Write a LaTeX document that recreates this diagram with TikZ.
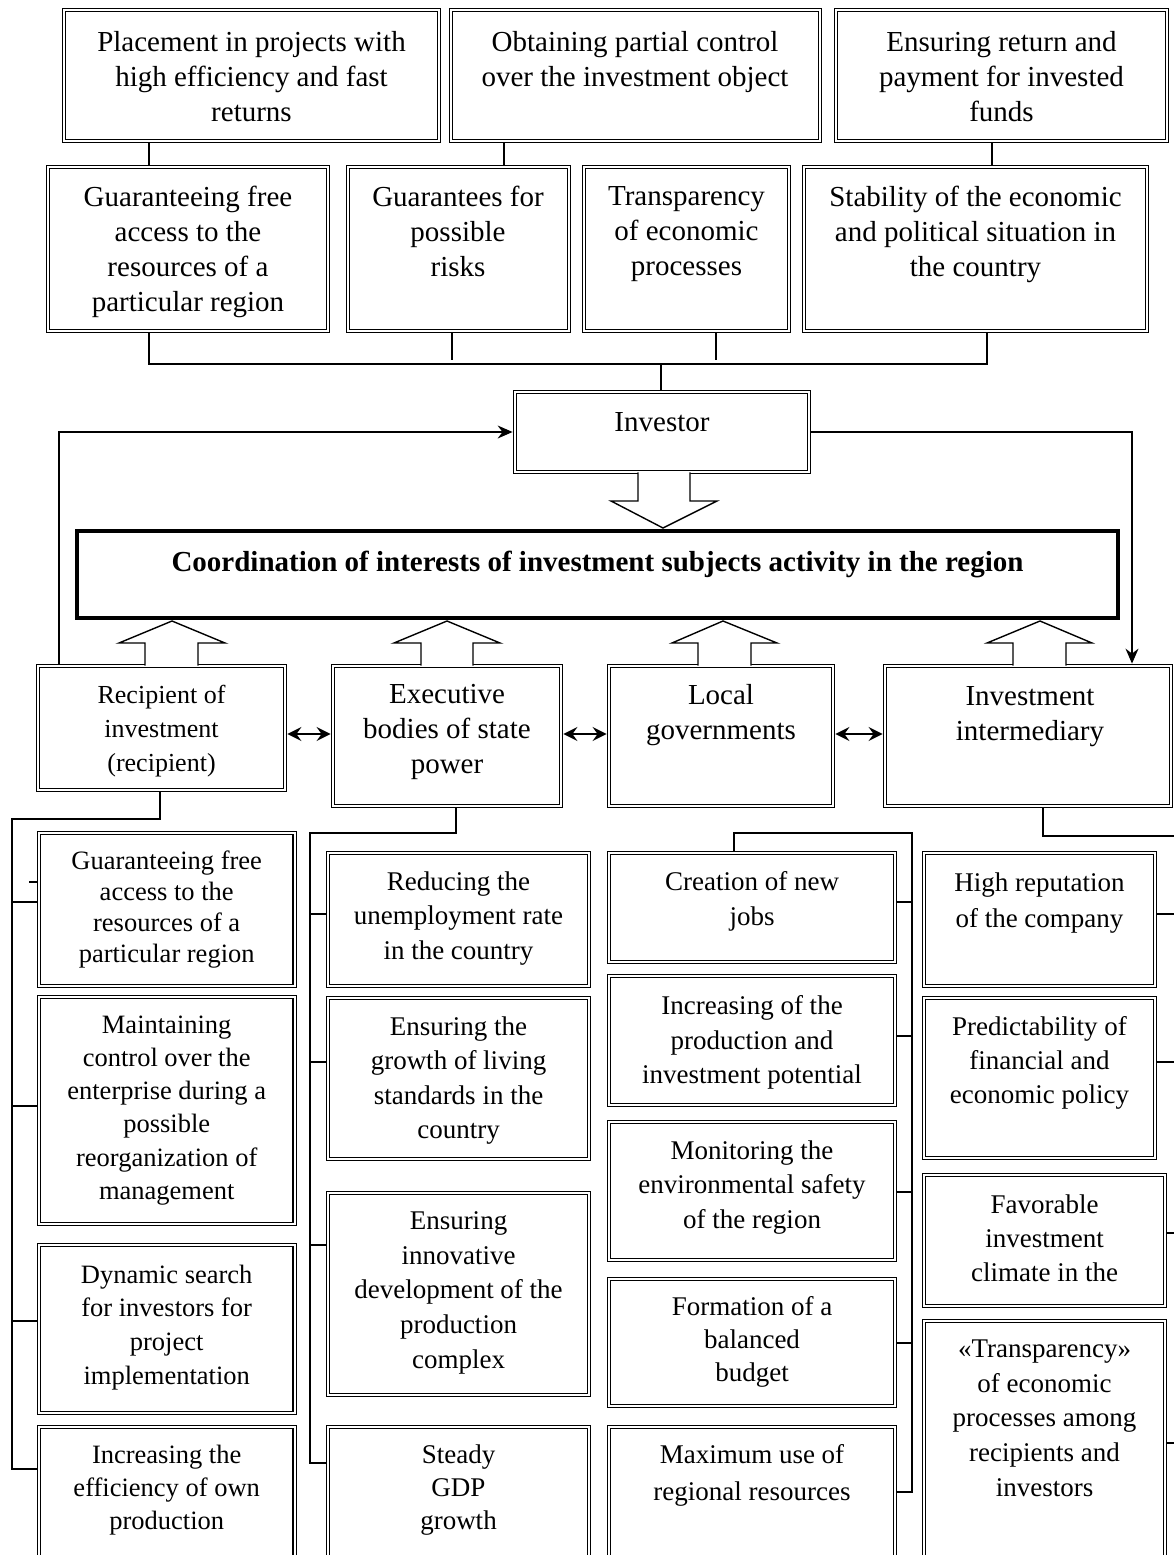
\documentclass[tikz,border=0pt]{standalone}
\usepackage{fontspec}
\setmainfont{Liberation Serif}
\usetikzlibrary{arrows.meta,backgrounds}
\tikzset{
  dbox/.style={draw, double, double distance=2pt, line width=1.2pt, inner sep=0pt, rectangle},
  tt/.style={align=center, inner sep=0pt, font=\fontsize{29}{35}\selectfont},
  conn/.style={line width=1.4pt},
  arr/.style={line width=1.5pt, -{Stealth[length=15pt,width=13pt,inset=5pt]}, shorten >=2pt},
  darr/.style={line width=2.2pt, {Stealth[length=14pt,width=14pt,inset=5pt]}-{Stealth[length=14pt,width=14pt,inset=5pt]}, shorten <=2pt, shorten >=2pt},
  blk/.style={line width=1.4pt, fill=white, line join=miter},
}
\newcommand\bx[5]{\node[dbox, minimum width={#4-#2-4.4}, minimum height={#5-#3-4.4}] (#1) at ({(#2+#4)/2},{(#3+#5)/2}) {};}
\newcommand\tx[5]{\node[#2, anchor=north] (#1) at (#3,#4) {#5};}
\begin{document}
\begin{tikzpicture}[x=1pt,y=-1pt]
\useasboundingbox (0,0) rectangle (1174,1555);
% ---------- boxes ----------
\bx{b1}{62}{8}{441}{143}
\bx{b2}{448.5}{8}{822}{143}
\bx{b3}{834}{8}{1169}{143}
\bx{c1}{46}{165}{330}{333}
\bx{c2}{345.5}{165}{571}{333}
\bx{c3}{582}{165}{791}{333}
\bx{c4}{802}{165}{1149}{333}
\bx{inv}{513}{390}{811}{474}
\node[draw, line width=4pt, inner sep=0pt, minimum width=1041, minimum height=87] (coo) at (597.5,574.5) {};
\bx{r1}{36}{664}{287}{792}
\bx{r2}{331}{664}{563}{808}
\bx{r3}{607}{664}{835}{808}
\bx{r4}{883}{664}{1173}{808}
\bx{l1}{36.7}{831}{296.7}{988}
\bx{l2}{36.7}{995}{296.7}{1226}
\bx{l3}{36.7}{1243}{296.7}{1415}
\bx{l4}{36.7}{1425}{296.7}{1580}
\bx{e1}{326}{851}{591}{988}
\bx{e2}{326}{996}{591}{1161}
\bx{e3}{326}{1191}{591}{1397}
\bx{e4}{326}{1425}{591}{1580}
\bx{m1}{607}{851}{897}{964}
\bx{m2}{607}{974}{897}{1107}
\bx{m3}{607}{1120}{897}{1262}
\bx{m4}{607}{1277}{897}{1408}
\bx{m5}{607}{1425}{897}{1580}
\bx{n1}{922}{851}{1157}{988}
\bx{n2}{922}{996}{1157}{1160}
\bx{n3}{922}{1173}{1167}{1308}
\bx{n4}{922}{1319}{1167}{1580}
% ---------- texts ----------
\tx{b1t}{tt}{251.5}{31}{Placement in projects with\\high efficiency and fast\\returns}
\tx{b2t}{tt}{635}{31}{Obtaining partial control\\over the investment object}
\tx{b3t}{tt}{1001.5}{31}{Ensuring return and\\payment for invested\\funds}
\tx{c1t}{tt}{188}{186}{Guaranteeing free\\access to the\\resources of a\\particular region}
\tx{c2t}{tt}{458}{186}{Guarantees for\\possible\\risks}
\tx{c3t}{tt}{686.5}{186}{Transparency\\of economic\\processes}
\tx{c4t}{tt}{975.5}{186}{Stability of the economic\\and political situation in\\the country}
\tx{invt}{tt}{662}{412}{Investor}
\tx{coot}{tt,font=\fontsize{29}{35}\selectfont\bfseries}{597.5}{551}{Coordination of interests of investment subjects activity in the region}
\tx{r1t}{tt,font=\fontsize{26}{34}\selectfont}{161.5}{685}{Recipient of\\investment\\(recipient)}
\tx{r2t}{tt}{447}{684}{Executive\\bodies of state\\power}
\tx{r3t}{tt}{721}{684}{Local\\governments}
\tx{r4t}{tt}{1030}{686}{Investment\\intermediary}
\tx{l1t}{tt,font=\fontsize{26.5}{31}\selectfont}{166.7}{850.5}{Guaranteeing free\\access to the\\resources of a\\particular region}
\tx{l2t}{tt,font=\fontsize{26.5}{33.2}\selectfont}{166.7}{1015.5}{Maintaining\\control over the\\enterprise during a\\possible\\reorganization of\\management}
\tx{l3t}{tt,font=\fontsize{26.5}{33.7}\selectfont}{166.7}{1264.5}{Dynamic search\\for investors for\\project\\implementation}
\tx{l4t}{tt,font=\fontsize{26.5}{33}\selectfont}{166.7}{1444.5}{Increasing the\\efficiency of own\\production}
\tx{e1t}{tt,font=\fontsize{27}{34.5}\selectfont}{458.5}{871.5}{Reducing the\\unemployment rate\\in the country}
\tx{e2t}{tt,font=\fontsize{27}{34.5}\selectfont}{458.5}{1016.5}{Ensuring the\\growth of living\\standards in the\\country}
\tx{e3t}{tt,font=\fontsize{27}{34.7}\selectfont}{458.5}{1211.5}{Ensuring\\innovative\\development of the\\production\\complex}
\tx{e4t}{tt,font=\fontsize{27}{33}\selectfont}{458.5}{1444.5}{Steady\\GDP\\growth}
\tx{m1t}{tt,font=\fontsize{27}{34.5}\selectfont}{752}{871.5}{Creation of new\\jobs}
\tx{m2t}{tt,font=\fontsize{27}{34.3}\selectfont}{752}{995.5}{Increasing of the\\production and\\investment potential}
\tx{m3t}{tt,font=\fontsize{27}{34.5}\selectfont}{752}{1140.5}{Monitoring the\\environmental safety\\of the region}
\tx{m4t}{tt,font=\fontsize{27}{33}\selectfont}{752}{1296.5}{Formation of a\\balanced\\budget}
\tx{m5t}{tt,font=\fontsize{27}{37}\selectfont}{752}{1444.5}{Maximum use of\\regional resources}
\tx{n1t}{tt,font=\fontsize{27}{36}\selectfont}{1039.5}{872.5}{High reputation\\of the company}
\tx{n2t}{tt,font=\fontsize{27}{34}\selectfont}{1039.5}{1016.5}{Predictability of\\financial and\\economic policy}
\tx{n3t}{tt,font=\fontsize{27}{34}\selectfont}{1044.5}{1194.5}{Favorable\\investment\\climate in the}
\tx{n4t}{tt,font=\fontsize{27}{34.7}\selectfont}{1044.5}{1339.5}{«Transparency»\\of economic\\processes among\\recipients and\\investors}
% ---------- block arrows ----------
\draw[blk] (inv.south -| 638,0) -- (638,501) -- (611,501) -- (663,528) -- (717,501) -- (690,501) -- (inv.south -| 690,0);
\draw[blk] (r1.north -| 145,0) -- (145,643) -- (119,643) -- (172,621) -- (225,643) -- (198,643) -- (r1.north -| 198,0);
\draw[blk] (r2.north -| 421,0) -- (421,643) -- (394,643) -- (447,621) -- (500,643) -- (473,643) -- (r2.north -| 473,0);
\draw[blk] (r3.north -| 698,0) -- (698,643) -- (672,643) -- (723,621) -- (777,643) -- (751,643) -- (r3.north -| 751,0);
\draw[blk] (r4.north -| 1013,0) -- (1013,643) -- (987,643) -- (1040,621) -- (1092,643) -- (1066,643) -- (r4.north -| 1066,0);
% ---------- connectors ----------
\begin{pgfonlayer}{background}
\fill[white] (0,0) rectangle (1174,1555);
\coordinate (hubL) at (149,364);
\coordinate (hubR) at (987,364);
\coordinate (hubI) at (661,364);
\draw[conn] (b1.south -| 149,0) -- (c1.north -| 149,0);
\draw[conn] (b2.south -| 504,0) -- (c2.north -| 504,0);
\draw[conn] (b3.south -| 992,0) -- (c4.north -| 992,0);
\draw[conn] (c1.south -| hubL) -- (hubL) -- (hubR) -- (c4.south -| hubR);
\draw[conn] (c2.south -| 452,0) -- (452,360);
\draw[conn] (c3.south -| 716,0) -- (716,360);
\draw[conn] (hubI) -- (inv.north -| hubI);
\draw[arr] (r1.north -| 59,0) |- (inv.west);
\draw[arr] (inv.east) -| (r4.north -| 1132,0);
\draw[darr] (r1.east |- 0,734) -- (r2.west |- 0,734);
\draw[darr] (r2.east |- 0,734) -- (r3.west |- 0,734);
\draw[darr] (r3.east |- 0,734) -- (r4.west |- 0,734);
% column 1
\coordinate (busL) at (12,819);
\draw[conn] (r1.south -| 160,0) |- (busL) -- (12,1469) -- (l4.west |- 0,1469);
\draw[conn] (12,902) -- (l1.west |- 0,902);
\draw[conn] (29,882) -- (l1.west |- 0,882);
\draw[conn] (12,1106) -- (l2.west |- 0,1106);
\draw[conn] (12,1321) -- (l3.west |- 0,1321);
% column 2
\coordinate (busE) at (310,833);
\draw[conn] (r2.south -| 456,0) |- (busE) -- (310,1463) -- (e4.west |- 0,1463);
\draw[conn] (310,914) -- (e1.west |- 0,914);
\draw[conn] (310,1062) -- (e2.west |- 0,1062);
\draw[conn] (310,1245) -- (e3.west |- 0,1245);
% column 3
\coordinate (busM) at (912,833);
\draw[conn] (m1.north -| 734,0) |- (busM) -- (912,1492) -- (m5.east |- 0,1492);
\draw[conn] (m1.east |- 0,902) -- (912,902);
\draw[conn] (m2.east |- 0,1036) -- (912,1036);
\draw[conn] (m3.east |- 0,1192) -- (912,1192);
\draw[conn] (m4.east |- 0,1343) -- (912,1343);
% column 4
\coordinate (busN) at (1176,836);
\draw[conn] (r4.south -| 1043,0) |- (busN);
\draw[conn] (n1.east |- 0,914) -- (1176,914);
\draw[conn] (n2.east |- 0,1062) -- (1176,1062);
\draw[conn] (n3.east |- 0,1233) -- (1176,1233);
\draw[conn] (n4.east |- 0,1443) -- (1176,1443);
\end{pgfonlayer}
\end{tikzpicture}
\end{document}
